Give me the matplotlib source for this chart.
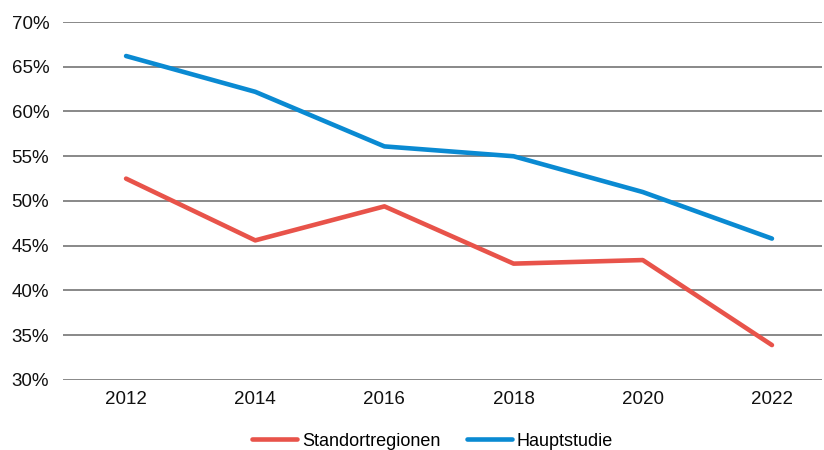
import matplotlib
matplotlib.use('Agg')
import matplotlib.pyplot as plt
from matplotlib.ticker import FuncFormatter

plt.rcParams['font.family'] = ['Liberation Sans', 'DejaVu Sans']

years = ['2012', '2014', '2016', '2018', '2020', '2022']
standort = [52.5, 45.6, 49.4, 43.0, 43.4, 33.9]
haupt = [66.2, 62.2, 56.1, 55.0, 51.0, 45.8]

fig = plt.figure(figsize=(8.24, 4.5), dpi=100)
ax = fig.add_axes([0.0765, 0.1556, 0.921, 0.7955])

x = list(range(len(years)))
ax.plot(x, standort, color='#E8534A', lw=3.3, solid_capstyle='round', label='Standortregionen', zorder=3)
ax.plot(x, haupt, color='#0A8AD2', lw=3.3, solid_capstyle='round', label='Hauptstudie', zorder=3)

ax.set_ylim(30, 70)
ax.set_yticks(range(30, 71, 5))
ax.yaxis.set_major_formatter(FuncFormatter(lambda v, p: '%d%%' % v))
ax.set_xlim(-0.488, 5.387)
ax.set_xticks(x)
ax.set_xticklabels(years)
ax.grid(axis='y', color='#7f7f7f', lw=1.3)
ax.set_axisbelow(True)
for s in ax.spines.values():
    s.set_visible(False)
ax.tick_params(axis='both', length=0, labelsize=13.5, labelcolor='#111111')
ax.tick_params(axis='x', pad=8)
ax.tick_params(axis='y', pad=10)

fig.legend(loc='lower center', bbox_to_anchor=(0.525, -0.035), ncol=2, frameon=False,
           fontsize=13, handlelength=2.5, columnspacing=1.5, handletextpad=0.25)

fig.savefig('out.png', dpi=100)
